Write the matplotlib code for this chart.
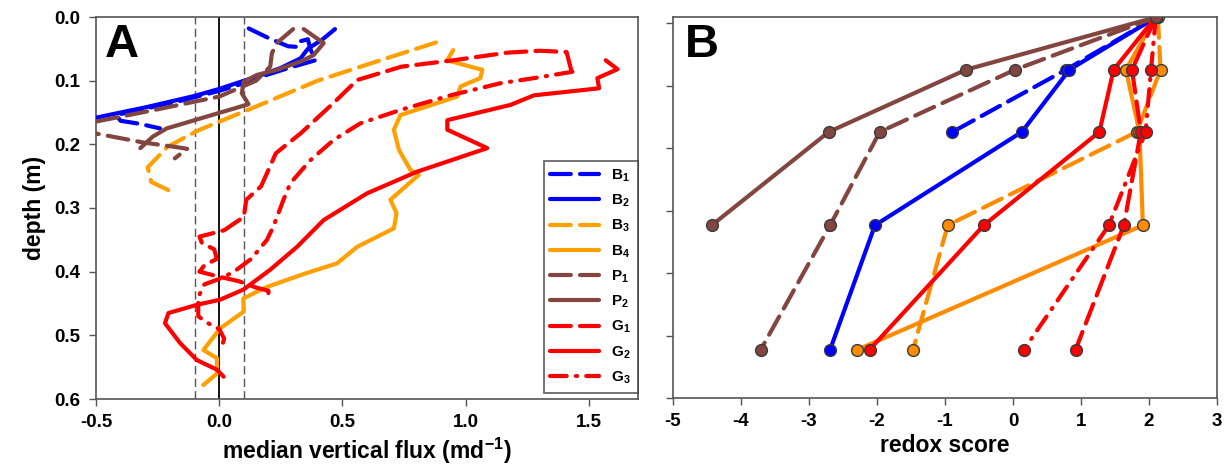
import numpy as np
import matplotlib
matplotlib.use("Agg")
import matplotlib.pyplot as plt

plt.rcParams["font.family"] = ["Liberation Sans", "DejaVu Sans"]
plt.rcParams["font.weight"] = "bold"
plt.rcParams["mathtext.fontset"] = "custom"
plt.rcParams["mathtext.rm"] = "Liberation Sans:bold"
plt.rcParams["mathtext.bf"] = "Liberation Sans:bold"
plt.rcParams["mathtext.default"] = "bf"

NAN = np.nan

# ---- panel A: median vertical flux profiles (flux, depth) ----
b1_flux = [0.12, 0.20, 0.28, 0.32, 0.33, 0.36, 0.37, 0.39, 0.30, 0.20, 0.10, 0.0, -0.15, -0.30, -0.42, -0.40, -0.32, -0.24]
b1_depth = [0.018, 0.033, 0.046, 0.047, 0.038, 0.035, 0.050, 0.068, 0.078, 0.090, 0.104, 0.116, 0.131, 0.144, 0.154, 0.163, 0.168, 0.175]

b2_flux = [0.47, 0.42, 0.36, 0.33, 0.25, 0.15, 0.07, 0.0, -0.10, -0.20, -0.30, -0.40, -0.51]
b2_depth = [0.019, 0.035, 0.050, 0.065, 0.080, 0.094, 0.104, 0.113, 0.124, 0.133, 0.142, 0.150, 0.159]

b3_flux = [0.88, 0.63, 0.40, 0.11, -0.085, -0.21, -0.29, -0.276, -0.19]
b3_depth = [0.040, 0.071, 0.100, 0.147, 0.178, 0.204, 0.236, 0.259, 0.275]

b4_flux = [0.95, 0.925, 1.068, 1.06, 0.98, 0.966, 0.736, 0.709, 0.73, 0.776, 0.81, 0.695, 0.72, 0.709,
           0.56, 0.478, 0.356, 0.194, 0.098, 0.099, 0.004, -0.064, -0.009, -0.009, -0.064]
b4_depth = [0.052, 0.068, 0.083, 0.096, 0.109, 0.125, 0.154, 0.177, 0.209, 0.240, 0.248, 0.287, 0.308, 0.332,
            0.361, 0.387, 0.402, 0.424, 0.442, 0.463, 0.489, 0.523, 0.536, 0.560, 0.578]

p1_flux = [0.30, 0.234, 0.214, 0.207, 0.15, 0.0, -0.25, -0.51, -0.60, -0.60, -0.50, -0.31, -0.18, -0.13, -0.18]
p1_depth = [0.019, 0.041, 0.057, 0.078, 0.100, 0.125, 0.145, 0.165, 0.170, 0.180, 0.183, 0.197, 0.204, 0.207, 0.222]

p2_flux = [0.343, 0.424, 0.383, 0.33, 0.234, 0.153, 0.099, 0.092, 0.119, -0.213, -0.27, -0.32]
p2_depth = [0.019, 0.041, 0.060, 0.070, 0.083, 0.091, 0.102, 0.120, 0.137, 0.175, 0.188, 0.206]

g1_flux = [1.43, 1.42, 1.41, 1.30, 1.17, 0.95, 0.74, 0.56, 0.47, 0.33, 0.23, 0.17, 0.11, 0.10, 0.02,
           -0.08, -0.07, -0.02, -0.01, -0.06, -0.08, 0.0, 0.08, 0.15, 0.20, 0.20]
g1_depth = [0.085, 0.070, 0.055, 0.053, 0.056, 0.068, 0.078, 0.099, 0.133, 0.183, 0.214, 0.266, 0.287, 0.314, 0.335,
            0.345, 0.355, 0.365, 0.380, 0.390, 0.400, 0.408, 0.415, 0.425, 0.430, 0.445]

g2_flux = [1.569, 1.617, 1.535, 1.542, 1.278, 1.183, 0.926, 0.926, 1.088, 0.803, 0.60, 0.424, 0.316, 0.207, 0.099,
           0.004, -0.09, -0.206, -0.22, -0.159, -0.09, -0.009, 0.018]
g2_depth = [0.068, 0.082, 0.096, 0.112, 0.123, 0.138, 0.162, 0.177, 0.206, 0.243, 0.277, 0.319, 0.361, 0.397, 0.428,
            0.444, 0.452, 0.465, 0.481, 0.512, 0.539, 0.554, 0.565]

g3_flux = [1.434, 1.278, 1.142, 0.939, 0.736, 0.573, 0.465, 0.37, 0.289, 0.261, 0.22, 0.194, 0.13, 0.06, 0.01,
           -0.06, -0.085, -0.085, -0.05, 0.0, 0.02, 0.01]
g3_depth = [0.086, 0.096, 0.104, 0.123, 0.146, 0.167, 0.193, 0.225, 0.261, 0.287, 0.329, 0.350, 0.380, 0.400, 0.410,
            0.420, 0.440, 0.470, 0.480, 0.490, 0.505, 0.520]

# ---- panel B: redox score at sampling depths ----
redox_depth = [0.0, 0.083, 0.181, 0.328, 0.524]
b1_redox = [2.11, 0.78, -0.89, NAN, NAN]
b2_redox = [2.11, 0.83, 0.13, -2.03, -2.69]
b3_redox = [2.13, 2.17, 1.82, -0.96, -1.47]
b4_redox = [2.10, 1.66, 1.86, 1.91, -2.29]
p1_redox = [2.11, 0.03, -1.96, -2.69, -3.71]
p2_redox = [2.11, -0.69, -2.71, -4.43, NAN]
g1_redox = [2.10, 1.75, 1.88, 1.63, 0.92]
g2_redox = [2.10, 1.48, 1.27, -0.43, -2.11]
g3_redox = [2.10, 2.03, 1.95, 1.41, 0.16]

labels = ["B$_1$", "B$_2$", "B$_3$", "B$_4$", "P$_1$", "P$_2$", "G$_1$", "G$_2$", "G$_3$"]

BLUE = "#0000ff"
ORANGE = "#ffa000"
ORANGE_B = "#ff8c00"
BROWN = "#834540"
RED = "#ff0000"

DASH = (5, 2.2)
DASHDOT = (4, 2.2, 0.3, 2.2)

styles = [
    (BLUE, DASH), (BLUE, None), (ORANGE, DASH), (ORANGE, None),
    (BROWN, DASH), (BROWN, None), (RED, DASH), (RED, None), (RED, DASHDOT),
]

flux_series = [(b1_flux, b1_depth), (b2_flux, b2_depth), (b3_flux, b3_depth), (b4_flux, b4_depth),
               (p1_flux, p1_depth), (p2_flux, p2_depth), (g1_flux, g1_depth), (g2_flux, g2_depth),
               (g3_flux, g3_depth)]
redox_series = [b1_redox, b2_redox, b3_redox, b4_redox, p1_redox, p2_redox, g1_redox, g2_redox, g3_redox]

fig = plt.figure(figsize=(12.28, 4.72), dpi=100)
ax1 = fig.add_axes([96 / 1228, 73 / 472, 542 / 1228, 382 / 472])
ax2 = fig.add_axes([673 / 1228, 74 / 472, 544 / 1228, 381 / 472])

LW = 3.0


def style_line(line, dash):
    if dash is not None:
        line.set_dashes(dash)
    line.set_dash_capstyle("round")
    line.set_solid_capstyle("round")
    line.set_solid_joinstyle("round")


# panel A
ax1.axvline(0.0, color="black", lw=1.3, zorder=1)
ax1.axvline(-0.1, color="#555555", lw=1.0, ls=(0, (6, 3)), zorder=1)
ax1.axvline(0.1, color="#555555", lw=1.0, ls=(0, (6, 3)), zorder=1)

handles = []
for (x, y), (c, dash), lab in zip(flux_series, styles, labels):
    (ln,) = ax1.plot(x, y, color=c, lw=LW, label=lab, zorder=3)
    style_line(ln, dash)
    handles.append(ln)

ax1.set_xlim(-0.5, 1.7)
ax1.set_ylim(0.6, 0.0)
ax1.set_xticks([-0.5, 0.0, 0.5, 1.0, 1.5])
ax1.set_xticklabels(["-0.5", "0.0", "0.5", "1.0", "1.5"])
ax1.set_yticks([0.0, 0.1, 0.2, 0.3, 0.4, 0.5, 0.6])
ax1.set_yticklabels(["0.0", "0.1", "0.2", "0.3", "0.4", "0.5", "0.6"])
ax1.set_xlabel("median vertical flux (md$^{-1}$)", fontsize=16.5, fontweight="bold", labelpad=3)
ax1.set_ylabel("depth (m)", fontsize=16.5, fontweight="bold", labelpad=6)
ax1.text(0.017, 0.985, "A", transform=ax1.transAxes, fontsize=34, fontweight="bold", va="top", ha="left")

leg = ax1.legend(handles=handles, loc="lower right", bbox_to_anchor=(1.0, 0.016), borderaxespad=0,
                 fancybox=False, frameon=True, edgecolor="#333333", fontsize=11, handlelength=3.2,
                 handletextpad=0.8, labelspacing=0.58, borderpad=0.45)
leg.get_frame().set_linewidth(1.2)

# panel B
order = [0, 1, 2, 3, 6, 7, 8, 4, 5]
for i in order:
    c, dash = styles[i]
    if c == ORANGE:
        c = ORANGE_B
    (ln,) = ax2.plot(redox_series[i], redox_depth, color=c, lw=LW, marker="o", markersize=8.5,
                     markerfacecolor=c, markeredgecolor="#3a3a3a", markeredgewidth=1.0, zorder=3)
    style_line(ln, dash)

ax2.set_xlim(-5, 3)
ax2.set_ylim(0.6, 0.0)
ax2.set_xticks(range(-5, 4))
ax2.set_xticklabels([str(v) for v in range(-5, 4)])
ax2.set_yticks(np.linspace(0.6, 0.01, 7))
ax2.set_yticklabels([])
ax2.set_xlabel("redox score", fontsize=16.5, fontweight="bold", labelpad=3)
ax2.text(0.022, 0.985, "B", transform=ax2.transAxes, fontsize=34, fontweight="bold", va="top", ha="left")

for ax in (ax1, ax2):
    for s in ax.spines.values():
        s.set_color("#555555")
        s.set_linewidth(1.2)
    ax.tick_params(direction="out", length=5, width=1.0, color="#555555", labelsize=13.5, pad=6)
    for t in ax.get_xticklabels() + ax.get_yticklabels():
        t.set_fontweight("bold")

fig.savefig("out.png", dpi=100)
